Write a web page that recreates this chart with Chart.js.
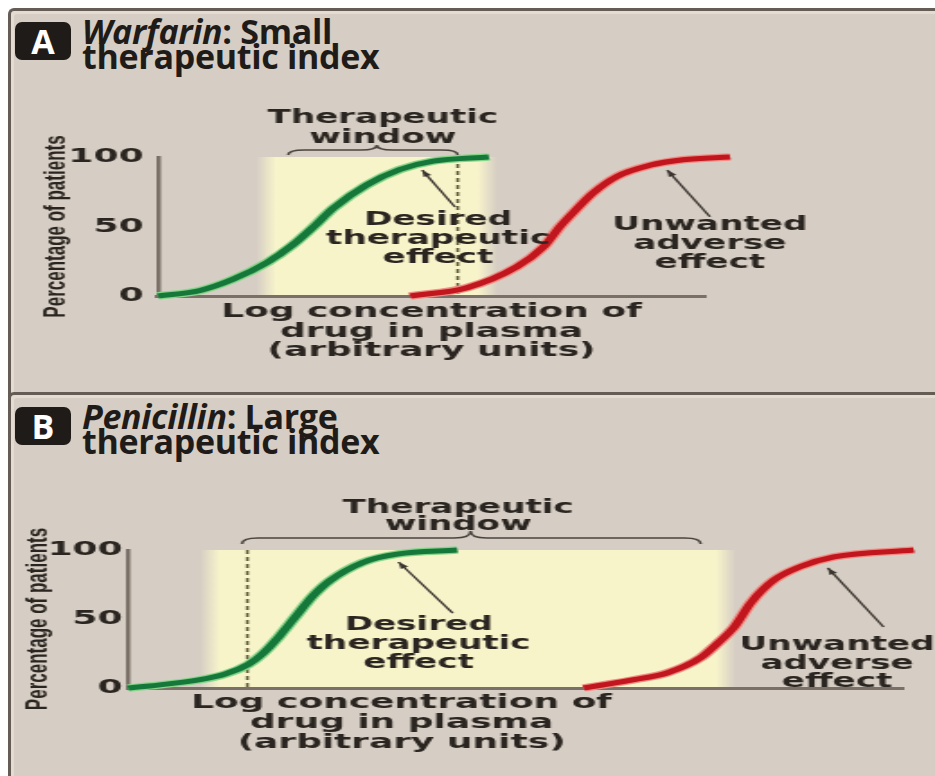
<!DOCTYPE html>
<html>
<head>
<meta charset="utf-8">
<script src="https://cdn.jsdelivr.net/npm/chart.js@4.4.1/dist/chart.umd.min.js"></script>
<style>
  html, body { margin: 0; padding: 0; background: #fff; }
  body { width: 935px; height: 776px; position: relative; overflow: hidden; }
  .panel { position: absolute; left: 8px; width: 940px; background: #d6cec4; border-left: 3px solid #645c55; border-top: 3px solid #645c55; border-top-left-radius: 6px; box-sizing: border-box; box-shadow: inset 3px 3px 0 #e3dcd3; }
  #panelA { top: 8px; height: 390px; }
  #panelB { top: 392px; height: 400px; }
  .badge { position: absolute; left: 15px; width: 56px; height: 38px; background: #1f1b18; border-radius: 7px; color: #fff; font: 700 34px/38px "Open Sans", sans-serif; text-align: center; }
  .heading { position: absolute; left: 82px; font: 700 34px/25px "Open Sans", sans-serif; color: #1f1b18; letter-spacing: -0.3px; white-space: nowrap; }
  .wrap { position: absolute; left: 0; width: 520px; transform-origin: 0 0; transform: scaleX(1.798); }
</style>
</head>
<body>
<div class="panel" id="panelA"></div>
<div class="panel" id="panelB"></div>

<div class="badge" style="top:22px">A</div>
<div class="heading" style="top:19px"><i>Warfarin</i>: Small<br>therapeutic index</div>
<div class="badge" style="top:407px">B</div>
<div class="heading" style="top:404px"><i>Penicillin</i>: Large<br>therapeutic index</div>

<div class="wrap" style="top:0"><canvas id="chartA" width="520" height="393"></canvas></div>
<div class="wrap" style="top:395px"><canvas id="chartB" width="520" height="381"></canvas></div>

<script>
// curve values (x = log concentration, arbitrary units; y = % of patients)
const warfarinDesiredX = [0, 0.77, 1.37, 1.99, 2.47, 2.85, 3.2, 3.82, 4.42, 5.03, 6.05];
const warfarinDesiredY = [0, 4, 12, 24, 37, 50, 63, 80, 91, 97, 100];
const warfarinAdverseX = [4.61, 5.65, 6.56, 7.04, 7.35, 7.59, 7.95, 8.39, 8.99, 9.6, 10.46];
const warfarinAdverseY = [0, 6, 21, 35, 50, 60, 74, 86, 94, 98, 100];

const penicillinDesiredX = [0, 0.28, 0.93, 1.25, 1.55, 1.74, 1.96, 2.18, 2.39, 2.61, 3.03, 3.47, 4.25];
const penicillinDesiredY = [0, 1.5, 6, 10, 17, 25, 38, 53, 67, 78, 91, 97, 100];
const penicillinAdverseX = [5.88, 6.1, 6.53, 6.96, 7.39, 7.6, 7.82, 8.04, 8.33, 8.68, 9.11, 10.14];
const penicillinAdverseY = [0, 2, 6, 11, 22, 32, 44, 62, 78, 88, 95, 100];

const yTicks = [0, 50, 100];
const windowLabel = ['Therapeutic', 'window'];
const desiredLabel = ['Desired', 'therapeutic', 'effect'];
const adverseLabel = ['Unwanted', 'adverse', 'effect'];
const xTitle = ['Log concentration of', 'drug in plasma', '(arbitrary units)'];
const yTitle = 'Percentage of patients';

const SX = 935 / 520;   // the figure is stretched sideways
const INK = '#2a2520';
const LABEL_FONT = 'bold 19px "DejaVu Sans", sans-serif';
const CAPTION_FONT = 'bold 20px "DejaVu Sans", sans-serif';

function pts(xs, ys) {
  return xs.map(function (x, i) { return { x: x, y: ys[i] }; });
}

// core first: Chart.js paints dataset 0 last (on top)
function curve(xs, ys, core, halo) {
  return [
    { data: pts(xs, ys), borderColor: core, borderWidth: 5, pointRadius: 0, clip: false, cubicInterpolationMode: 'monotone' },
    { data: pts(xs, ys), borderColor: halo, borderWidth: 7.5, pointRadius: 0, clip: false, cubicInterpolationMode: 'monotone' }
  ];
}

function drawLines(ctx, lines, x, y, gap, font) {
  ctx.save();
  ctx.font = font || LABEL_FONT;
  ctx.fillStyle = INK;
  ctx.textAlign = 'center';
  ctx.textBaseline = 'alphabetic';
  lines.forEach(function (t, i) { ctx.fillText(t, x, y + i * gap); });
  ctx.restore();
}

function arrow(ctx, x1, y1, x2, y2) {
  // from tail (x1,y1) to head (x2,y2)
  var a = Math.atan2(y2 - y1, x2 - x1);
  ctx.save();
  ctx.strokeStyle = '#3b3530';
  ctx.fillStyle = '#3b3530';
  ctx.lineWidth = 1.4;
  ctx.beginPath();
  ctx.moveTo(x1, y1);
  ctx.lineTo(x2, y2);
  ctx.stroke();
  ctx.beginPath();
  ctx.moveTo(x2, y2);
  ctx.lineTo(x2 - 7 * Math.cos(a - 0.35), y2 - 7 * Math.sin(a - 0.35));
  ctx.lineTo(x2 - 7 * Math.cos(a + 0.35), y2 - 7 * Math.sin(a + 0.35));
  ctx.closePath();
  ctx.fill();
  ctx.restore();
}

const decor = {
  id: 'decor',
  beforeDatasetsDraw: function (chart, args, o) {
    var ctx = chart.ctx, xs = chart.scales.x, area = chart.chartArea;
    // therapeutic window band
    var bl = xs.getPixelForValue(o.band[0]), br = xs.getPixelForValue(o.band[1]);
    var fade = 11 / (br - bl);
    var g = ctx.createLinearGradient(bl, 0, br, 0);
    g.addColorStop(0, 'rgba(248,244,202,0)');
    g.addColorStop(fade, 'rgba(248,244,202,1)');
    g.addColorStop(1 - fade, 'rgba(248,244,202,1)');
    g.addColorStop(1, 'rgba(248,244,202,0)');
    ctx.save();
    ctx.fillStyle = g;
    ctx.fillRect(bl, area.top, br - bl, area.bottom - area.top - 1);
    // dashed marker
    var dx = xs.getPixelForValue(o.dash);
    ctx.strokeStyle = '#5f5b38';
    ctx.lineWidth = 1.6;
    ctx.setLineDash([4, 3]);
    ctx.beginPath();
    ctx.moveTo(dx, area.top);
    ctx.lineTo(dx, area.bottom);
    ctx.stroke();
    ctx.setLineDash([]);
    // brace
    var b = o.brace;
    var x1 = xs.getPixelForValue(b.from), x2 = xs.getPixelForValue(b.to), xm = xs.getPixelForValue(b.mid);
    var ye = area.top + b.end, yf = area.top + b.flat, yt = area.top + b.tip, r = 9;
    ctx.strokeStyle = '#4a443e';
    ctx.lineWidth = 1.5;
    ctx.beginPath();
    ctx.moveTo(x1, ye);
    ctx.quadraticCurveTo(x1, yf, x1 + r, yf);
    ctx.lineTo(xm - r, yf);
    ctx.quadraticCurveTo(xm, yf, xm, yt);
    ctx.quadraticCurveTo(xm, yf, xm + r, yf);
    ctx.lineTo(x2 - r, yf);
    ctx.quadraticCurveTo(x2, yf, x2, ye);
    ctx.stroke();
    ctx.restore();
  },
  afterDatasetsDraw: function (chart, args, o) {
    var ctx = chart.ctx, xs = chart.scales.x, ys = chart.scales.y, area = chart.chartArea;
    var px = function (v) { return xs.getPixelForValue(v); };
    var py = function (v) { return ys.getPixelForValue(v); };
    drawLines(ctx, windowLabel, px(o.windowAt[0]), py(o.windowAt[1]), o.windowAt[2]);
    drawLines(ctx, desiredLabel, px(o.desiredAt[0]), py(o.desiredAt[1]), o.desiredAt[2]);
    drawLines(ctx, adverseLabel, px(o.adverseAt[0]), py(o.adverseAt[1]), o.adverseAt[2]);
    arrow(ctx, px(o.desiredArrow[2]), py(o.desiredArrow[3]), px(o.desiredArrow[0]), py(o.desiredArrow[1]));
    arrow(ctx, px(o.adverseArrow[2]), py(o.adverseArrow[3]), px(o.adverseArrow[0]), py(o.adverseArrow[1]));
    drawLines(ctx, xTitle, px(o.captionAt[0]), area.bottom + o.captionAt[1], o.captionAt[2], CAPTION_FONT);
  }
};

function makeChart(id, datasets, layout, deco) {
  var canvas = document.getElementById(id);
  return new Chart(canvas, {
    type: 'line',
    data: { datasets: datasets },
    options: {
      responsive: false,
      animation: false,
      events: [],
      layout: { padding: { left: layout.padLeft, top: layout.top, right: 520 - layout.right, bottom: 0 } },
      scales: {
        x: {
          type: 'linear', min: 0, max: 10,
          afterFit: function (s) { s.height = canvas.height - layout.bottom; },
          grid: { display: false },
          border: { display: true, color: '#7a7068', width: 3 },
          ticks: { display: false }
        },
        y: {
          min: 0, max: 100,
          afterBuildTicks: function (s) { s.ticks = yTicks.map(function (v) { return { value: v }; }); },
          afterFit: function (s) { s.width = layout.axisLeft - layout.padLeft; },
          grid: { display: false },
          border: { display: true, color: '#7a7068', width: 2.5 },
          ticks: { color: INK, padding: layout.tickPad, font: { family: 'DejaVu Sans', weight: 'bold', size: 20 } },
          title: { display: true, text: yTitle, color: INK, padding: 0, font: { family: 'Liberation Sans', weight: 'bold', size: 17 } }
        }
      },
      plugins: { legend: { display: false }, tooltip: { enabled: false }, decor: deco }
    },
    plugins: [decor]
  });
}

makeChart('chartA',
  curve(warfarinDesiredX, warfarinDesiredY, '#15783a', '#86d588').concat(
  curve(warfarinAdverseX, warfarinAdverseY, '#c1161d', '#f08c84')),
  { padLeft: 21, axisLeft: 158 / SX, right: 705 / SX, top: 157, bottom: 296, tickPad: 0 },
  {
    band: [1.8, 6.2], dash: 5.48,
    brace: { from: 2.38, to: 5.48, mid: 4.0, end: -2, flat: -7, tip: -12 },
    windowAt: [4.11, 124.5, 20],
    desiredAt: [5.12, 51.1, 19],
    adverseAt: [10.09, 47.5, 19],
    desiredArrow: [4.83, 90.6, 5.43, 64],
    adverseArrow: [9.31, 90.6, 10.09, 57],
    captionAt: [5.0, 21, 19.5]
  });

makeChart('chartB',
  curve(penicillinDesiredX, penicillinDesiredY, '#15783a', '#86d588').concat(
  curve(penicillinAdverseX, penicillinAdverseY, '#c1161d', '#f08c84')),
  { padLeft: 11, axisLeft: 128 / SX, right: 903 / SX, top: 155, bottom: 293, tickPad: -5 },
  {
    band: [0.93, 7.84], dash: 1.54,
    brace: { from: 1.47, to: 7.39, mid: 4.42, end: -6, flat: -12, tip: -19 },
    windowAt: [4.26, 126.8, 17],
    desiredAt: [3.75, 42, 19],
    adverseAt: [9.15, 27.5, 18.5],
    desiredArrow: [3.49, 91.3, 4.19, 54.3],
    adverseArrow: [9.03, 87, 9.75, 44.2],
    captionAt: [3.53, 20, 20]
  });
</script>
</body>
</html>
